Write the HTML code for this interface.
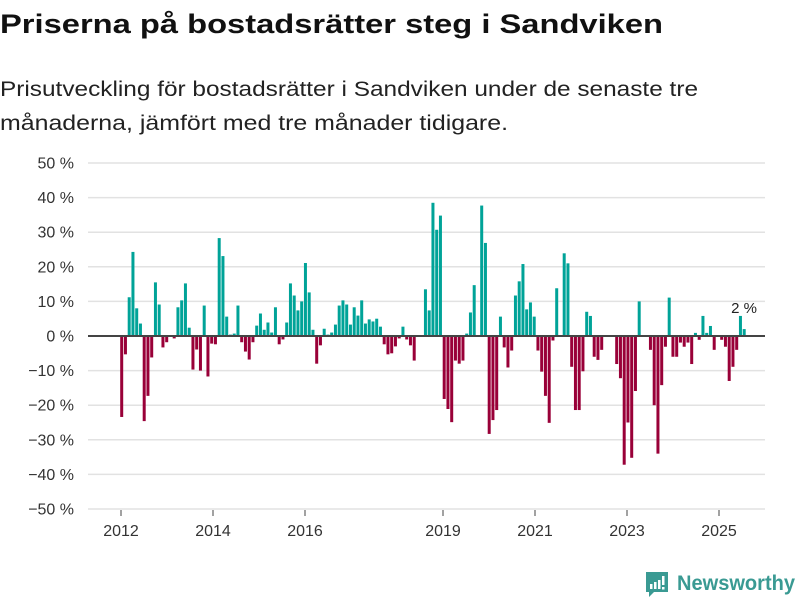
<!DOCTYPE html>
<html><head><meta charset="utf-8"><style>
html,body{margin:0;padding:0;background:#fff;width:800px;height:600px;overflow:hidden}
svg text{font-family:"Liberation Sans",sans-serif}
</style></head><body>
<svg id="chart" width="800" height="600" viewBox="0 0 800 600">
  <text x="0" y="33" font-size="27" font-weight="bold" fill="#111" textLength="663" lengthAdjust="spacingAndGlyphs">Priserna på bostadsrätter steg i Sandviken</text>
  <text x="0" y="96" font-size="21" fill="#222" textLength="698" lengthAdjust="spacingAndGlyphs">Prisutveckling för bostadsrätter i Sandviken under de senaste tre</text>
  <text x="0" y="130" font-size="21" fill="#222" textLength="508" lengthAdjust="spacingAndGlyphs">månaderna, jämfört med tre månader tidigare.</text>
  <g id="grid"></g>
  <g id="bars"></g>
  <g id="xaxis"></g>
  <line x1="88" x2="765" y1="336" y2="336" stroke="#444" stroke-width="2"/>
  <text x="744" y="313" font-size="15" fill="#222" text-anchor="middle">2 %</text>
  <g>
    <path d="M646 572 h22 v20 h-14 l-5 5 v-5 h-3 z" fill="#3a9a93"/>
    <rect x="650" y="584" width="2.5" height="5" fill="#fff"/>
    <rect x="654" y="582" width="2.5" height="7" fill="#fff"/>
    <rect x="658" y="580" width="2.5" height="9" fill="#fff"/>
    <rect x="662" y="576" width="2.5" height="9" fill="#fff"/>
    <rect x="662" y="587" width="2.5" height="2.5" fill="#fff"/>
    <text x="677" y="590" font-size="21" font-weight="bold" fill="#3a9a93" textLength="118" lengthAdjust="spacingAndGlyphs">Newsworthy</text>
  </g>
</svg>
<script>
const yTicks = [50,40,30,20,10,0,-10,-20,-30,-40,-50];
const xYears = [2012,2014,2016,2019,2021,2023,2025];
const values = [-23.4,-5.3,11.2,24.3,8.0,3.6,-24.6,-17.3,-6.2,15.5,9.1,-3.3,-1.8,null,-0.7,8.3,10.3,15.2,2.4,-9.7,-3.9,-10,8.8,-11.7,-2.2,-2.4,28.3,23.1,5.6,0.4,0.7,8.8,-1.8,-4.5,-6.8,-1.8,3.0,6.5,1.8,3.9,1.0,8.3,-2.4,-1.0,3.9,15.2,11.7,7.4,10,21.1,12.6,1.8,-8,-2.7,2.1,0.4,1.0,3.3,8.8,10.3,9.1,3.3,8.3,5.9,10.3,3.6,4.8,4.2,5.0,2.7,-2.4,-5.3,-5.0,-3.0,-0.7,2.7,-1.0,-2.7,-7.1,null,null,13.5,7.4,38.5,30.7,34.8,-18.2,-21.1,-24.9,-7.1,-8.0,-7.1,0.7,6.8,14.7,null,37.7,26.9,-28.3,-24.3,-21.4,5.6,-3.3,-9.1,-4.2,11.7,15.8,20.8,7.7,9.7,5.6,-4.2,-10.3,-17.3,-25.1,-1.3,13.8,null,23.9,21.0,-8.9,-21.4,-21.4,-10.2,7.0,5.8,-6.0,-6.9,-4.0,null,null,null,-8.1,-12.2,-37.2,-25,-35.2,-15.9,10,null,null,-4.0,-20,-34,-14.2,-3.1,11.1,-6,-6,-1.9,-3.1,-1.9,-8.1,0.9,-1.1,5.8,0.9,2.9,-4,null,-1.1,-3.1,-13,-8.9,-4,5.8,2.0];

const NS='http://www.w3.org/2000/svg';
function y(v){return 336 - v*3.46;}
function x(i){return 121.7 + i*3.75;}
function xYear(yr){return 121 + (yr-2012)*46;}

const grid=document.getElementById('grid');
yTicks.forEach(t=>{
  if(t!==0){
    const l=document.createElementNS(NS,'line');
    
    
    l.setAttribute('x1',88);l.setAttribute('x2',765);
    l.setAttribute('y1',y(t));l.setAttribute('y2',y(t));
    l.setAttribute('stroke','#e2e2e2');l.setAttribute('stroke-width','1.5');
    grid.appendChild(l);
  }
  const tx=document.createElementNS(NS,'text');
  
  
  tx.setAttribute('x',74);tx.setAttribute('y',y(t)+5.5);
  tx.setAttribute('text-anchor','end');tx.setAttribute('font-size','16');tx.setAttribute('fill','#333');
  tx.textContent=(t<0?'\u2212'+(-t):t)+' %';
  grid.appendChild(tx);
});

const bars=document.getElementById('bars');
values.forEach((v,i)=>{
  if(v===null) return;
  const r=document.createElementNS(NS,'rect');
  
  
  r.setAttribute('x',x(i)-1.5);r.setAttribute('width',3);
  r.setAttribute('y',Math.min(y(v),336));r.setAttribute('height',Math.abs(y(v)-336));
  r.setAttribute('fill',v>=0?'#00a398':'#990038');
  bars.appendChild(r);
});

const xa=document.getElementById('xaxis');
xYears.forEach(yr=>{
  const tk=document.createElementNS(NS,'line');
  
  
  tk.setAttribute('x1',xYear(yr));tk.setAttribute('x2',xYear(yr));
  tk.setAttribute('y1',510);tk.setAttribute('y2',516);
  tk.setAttribute('stroke','#444');
  xa.appendChild(tk);
  const tx=document.createElementNS(NS,'text');
  
  
  tx.setAttribute('x',xYear(yr));tx.setAttribute('y',536);
  tx.setAttribute('text-anchor','middle');tx.setAttribute('font-size','16');tx.setAttribute('fill','#333');
  tx.textContent=yr;
  xa.appendChild(tx);
});
</script>
</body></html>
